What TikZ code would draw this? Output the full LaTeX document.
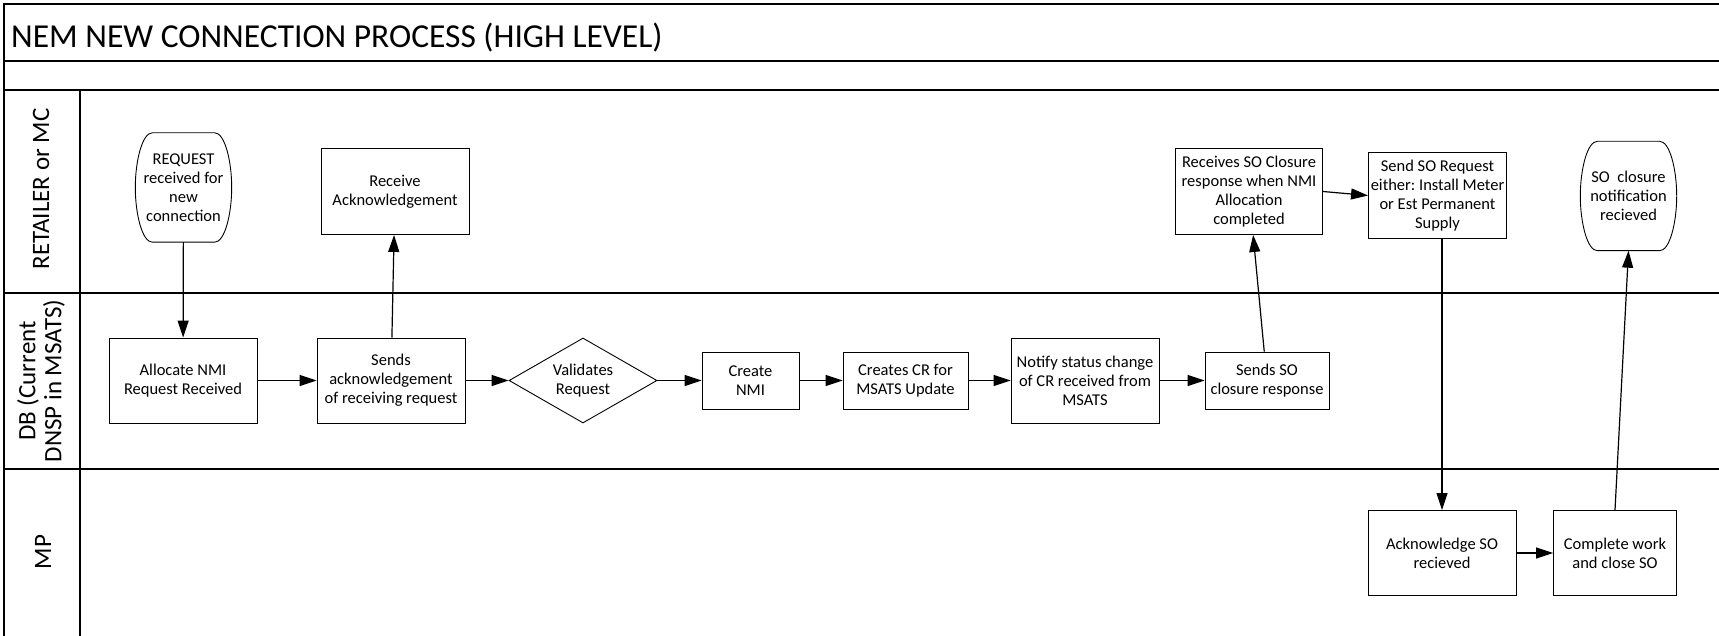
\documentclass[tikz,border=0pt]{standalone}
\usepackage{fontspec}
\setmainfont{Carlito}
\usetikzlibrary{shapes.geometric,arrows.meta}
\frenchspacing

\tikzset{
  txt/.style={font=\fontsize{16.5}{19}\selectfont},
  proc/.style={draw, line width=0.9pt, align=center, inner sep=0pt, txt},
  decision/.style={proc, diamond, shape aspect=1.74},
  termnode/.style={align=center, inner sep=0pt, txt, minimum width=96pt, minimum height=109pt},
  flow/.style={line width=1.2pt, -{Triangle[length=17pt,width=11pt]}},
  laneline/.style={line width=2pt},
  frameline/.style={line width=1.5pt},
  lanelabel/.style={rotate=90, align=center, font=\fontsize{25}{26}\selectfont},
}

% barrel-shaped outline of a start/end terminal around a named node
\newcommand\terminalborder[1]{%
  \draw[line width=0.9pt]
    ([xshift=17pt]#1.north west) -- ([xshift=-17pt]#1.north east)
    .. controls ([xshift=-7pt]#1.north east) and ([yshift=-28pt]#1.north east) .. (#1.east)
    .. controls ([yshift=28pt]#1.south east) and ([xshift=-7pt]#1.south east) .. ([xshift=-17pt]#1.south east)
    -- ([xshift=17pt]#1.south west)
    .. controls ([xshift=7pt]#1.south west) and ([yshift=28pt]#1.south west) .. (#1.west)
    .. controls ([yshift=-28pt]#1.north west) and ([xshift=7pt]#1.north west) .. ([xshift=17pt]#1.north west)
    -- cycle;}

\begin{document}
\begin{tikzpicture}[x=1pt,y=1pt]
\useasboundingbox (0,0) rectangle (1719,-636);

% swimlane frame
\draw[frameline] (4,-636) -- (4,-4) -- (1719,-4);
\draw[frameline] (4,-61) -- (1719,-61);
\draw[frameline] (4,-90) -- (1719,-90);
\draw[laneline] (4,-293) -- (1719,-293);
\draw[laneline] (4,-469) -- (1719,-469);
\draw[line width=1.2pt] (80,-90) -- (80,-636);

\node[anchor=base west, inner sep=0pt, font=\fontsize{33.5}{36}\selectfont] (title) at (11,-48)
  {NEM NEW CONNECTION PROCESS (HIGH LEVEL)};

\node[lanelabel] (lane1) at (41,-189) {RETAILER or MC};
\node[lanelabel] (lane2) at (41,-381) {DB (Current\\DNSP in MSATS)};
\node[lanelabel] (lane3) at (43,-552) {MP};

% retailer lane
\node[termnode] (req) at (183.5,-187.5) {REQUEST\\received for\\new\\connection};
\terminalborder{req}
\node[proc, minimum width=148pt, minimum height=86pt] (rack) at (395,-191.5) {Receive\\Acknowledgement};
\node[proc, minimum width=147pt, minimum height=86pt] (rso) at (1249,-191.5) {Receives SO Closure\\response when NMI\\Allocation\\completed};
\node[proc, minimum width=138pt, minimum height=86pt] (sreq) at (1437.5,-195.5) {Send SO Request\\either: Install Meter\\or Est Permanent\\Supply};
\node[termnode] (soc) at (1628.5,-196) {SO\ \ closure\\notification\\recieved};
\terminalborder{soc}

% distributor lane
\node[proc, minimum width=148pt, minimum height=85pt] (alloc) at (183,-380.5) {Allocate NMI\\Request Received};
\node[proc, minimum width=148pt, minimum height=85pt] (sack) at (391,-380.5) {Sends\\acknowledgement\\of receiving request};
\node[decision, minimum width=148pt, minimum height=85pt] (valid) at (583,-380.5) {Validates\\Request};
\node[proc, minimum width=97pt, minimum height=57pt] (cnmi) at (750.5,-380.5) {Create\\NMI};
\node[proc, minimum width=125pt, minimum height=57pt] (ccr) at (905.5,-380.5) {Creates CR for\\MSATS Update};
\node[proc, minimum width=148pt, minimum height=85pt] (notify) at (1085,-380.5) {Notify status change\\of CR received from\\MSATS};
\node[proc, minimum width=124pt, minimum height=57pt] (sso) at (1267,-380.5) {Sends SO\\closure response};

% metering provider lane
\node[proc, minimum width=148pt, minimum height=85pt] (ack) at (1442,-553) {Acknowledge SO\\recieved};
\node[proc, minimum width=123pt, minimum height=85pt] (cw) at (1615,-553) {Complete work\\and close SO};

% flow
\draw[flow] (req) -- (alloc);
\draw[flow] (alloc) -- (sack);
\draw[flow] (sack) -- (rack);
\draw[flow] (sack) -- (valid);
\draw[flow] (valid) -- (cnmi);
\draw[flow] (cnmi) -- (ccr);
\draw[flow] (ccr) -- (notify);
\draw[flow] (notify) -- (sso);
\draw[flow] (sso) -- (rso);
\draw[flow] (rso.east) -- (sreq.west);
\draw[flow] (sreq.south -| ack.north) -- (ack.north);
\draw[flow] (ack) -- (cw);
\draw[flow] (cw.north) -- (soc.south);
\end{tikzpicture}
\end{document}
